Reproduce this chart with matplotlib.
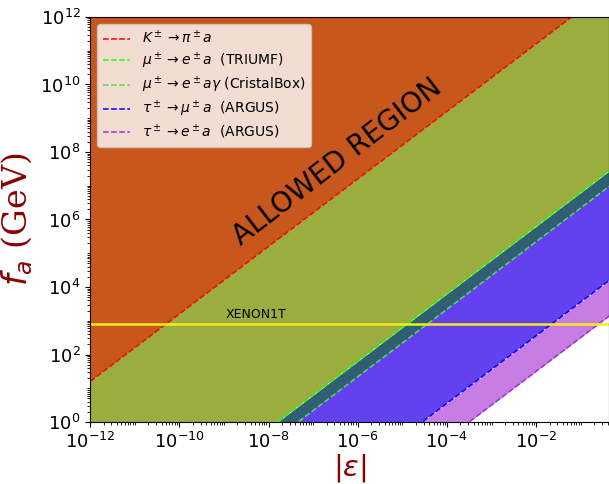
import numpy as np
import matplotlib.pyplot as plt
from matplotlib.ticker import LogLocator, NullFormatter

# line end points (|eps| at left/right end, f_a in GeV)
eps_ends = [1e-12, 1.0]
fa_K = [16, 1.6e13]          # K -> pi a
fa_triumf = [6.3e-5, 6.3e7]  # mu -> e a (TRIUMF)
fa_cbox = [2.2e-5, 2.2e7]    # mu -> e a gamma (CristalBox)
fa_tau_mu = [3.6e-8, 3.6e4]  # tau -> mu a (ARGUS)
fa_tau_e = [3.2e-9, 3.2e3]   # tau -> e a (ARGUS)
fa_top = [1e14, 1e14]
xenon = 800

fig = plt.figure(figsize=(6.09, 4.84), dpi=100)
ax = fig.add_axes([0.148, 0.128, 0.852, 0.837])

# filled bands
ax.fill_between(eps_ends, fa_K, fa_top, color='#c8571e', lw=0)
ax.fill_between(eps_ends, fa_triumf, fa_K, color='#9aad3e', lw=0)
ax.fill_between(eps_ends, fa_cbox, fa_triumf, color='#305f73', lw=0)
ax.fill_between(eps_ends, fa_tau_mu, fa_cbox, color='#6441f0', lw=0)
ax.fill_between(eps_ends, fa_tau_e, fa_tau_mu, color='#c87de4', lw=0)

ax.plot(eps_ends, fa_K, '--', color='red', lw=1.1, label=r'$K^\pm \rightarrow \pi^\pm a$')
ax.plot(eps_ends, fa_triumf, '--', color='#22ff00', lw=1.1, label=r'$\mu^\pm \rightarrow e^\pm a$  (TRIUMF)')
ax.plot(eps_ends, fa_cbox, '--', color='#55dd55', lw=1.1, label=r'$\mu^\pm \rightarrow e^\pm a\gamma$ (CristalBox)')
ax.plot(eps_ends, fa_tau_mu, '--', color='blue', lw=1.1, label=r'$\tau^\pm \rightarrow \mu^\pm a$  (ARGUS)')
ax.plot(eps_ends, fa_tau_e, '--', color='#9b30d9', lw=1.1, label=r'$\tau^\pm \rightarrow e^\pm a$  (ARGUS)')

ax.axhline(xenon, color='#f2ee1c', lw=1.8)
ax.text(1.1e-9, 1.0e3, 'XENON1T', fontsize=9, va='bottom')
ax.text(3.5e-7, 5e7, 'ALLOWED REGION', fontsize=20, rotation=37.5, ha='center', va='center')

ax.set_xscale('log')
ax.set_yscale('log')
ax.set_xlim(1e-12, 0.43)
ax.set_ylim(1, 1e12)
ax.set_xticks([10.0**k for k in range(-12, 0, 2)])
ax.set_yticks([10.0**k for k in range(0, 13, 2)])
for a in (ax.xaxis, ax.yaxis):
    a.set_minor_locator(LogLocator(base=10, subs=np.arange(1, 10), numticks=100))
    a.set_minor_formatter(NullFormatter())
ax.tick_params(labelsize=13)

ax.set_xlabel(r'$|\varepsilon|$', fontsize=21, color='darkred', labelpad=0)
ax.set_ylabel(r'$f_a$ (GeV)', fontsize=24, color='darkred', family='serif')

ax.legend(loc='upper left', fontsize=10, labelspacing=0.28)

fig.savefig('out.png', dpi=100)
